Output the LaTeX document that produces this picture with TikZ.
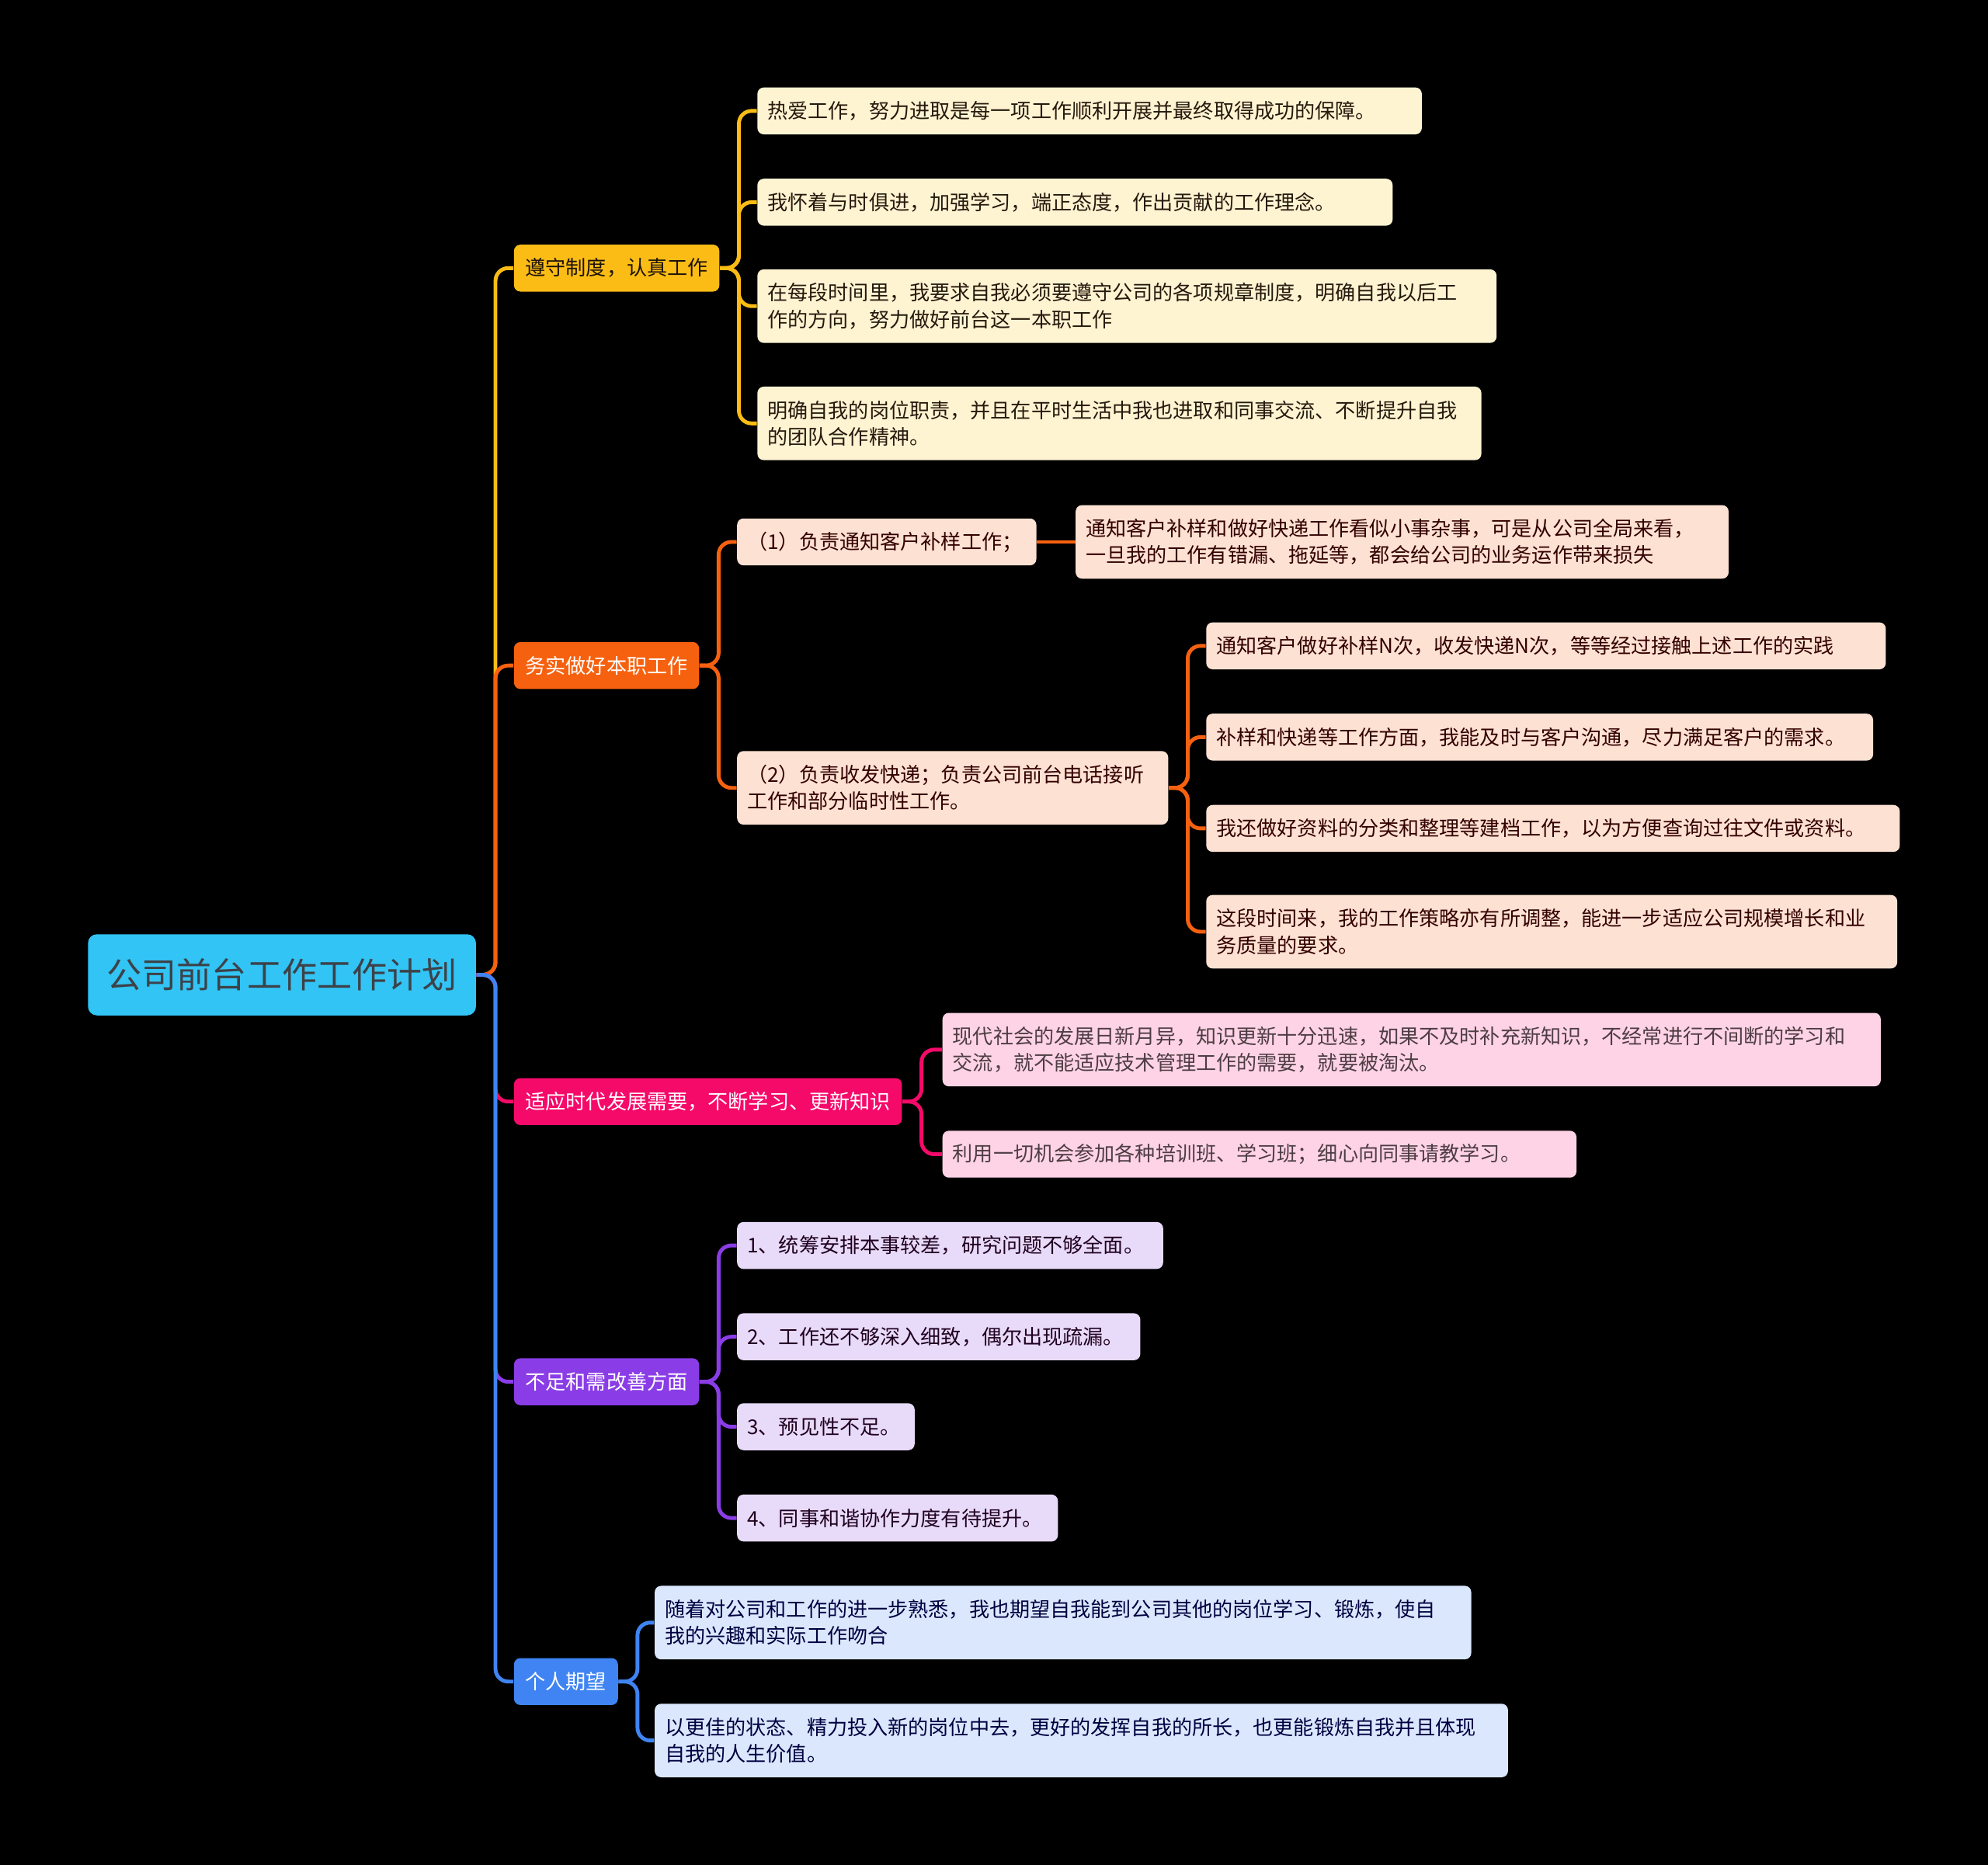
\documentclass[tikz,border=0pt]{standalone}
\usepackage{fontspec}
\setmainfont{Noto Sans CJK SC}
\definecolor{rootc}{HTML}{31C4F5}
\definecolor{ylw}{HTML}{FBBC16}
\definecolor{org}{HTML}{F6610F}
\definecolor{pnk}{HTML}{F50A6A}
\definecolor{prp}{HTML}{8A3DE6}
\definecolor{blu}{HTML}{3F84F2}
\definecolor{ylwleaf}{HTML}{FEF4D2}
\definecolor{orgleaf}{HTML}{FDE1D2}
\definecolor{pnkleaf}{HTML}{FED3E5}
\definecolor{prpleaf}{HTML}{E8DBF9}
\definecolor{bluleaf}{HTML}{DAE7FD}
\begin{document}
\begin{tikzpicture}[x=0.5pt,y=-0.5pt,
  box/.style={rounded corners=2.5pt,inner xsep=4pt,inner ysep=0pt,minimum height=18.5pt,anchor=west,font=\fontsize{8}{10.5}\selectfont},
  branch/.style={box,inner xsep=4.5pt,fill=#1,text=white},
  leaf/.style={box,align=left,text width=#1},
  tall/.style={minimum height=29pt},
  yleaf/.style={fill=ylwleaf,text=black!80!brown},
  oleaf/.style={fill=orgleaf,text=black!80!red},
  pleaf/.style={fill=pnkleaf,text=black!80!magenta},
  vleaf/.style={fill=prpleaf,text=black!75!violet},
  bleaf/.style={fill=bluleaf,text=black!75!blue},
  link/.style={line width=1.5pt,rounded corners=5pt}]
\fill[black] (0,0) rectangle (1568,1471);
\useasboundingbox (0,0) rectangle (1568,1471);

% centre
\node[box,rounded corners=3.5pt,fill=rootc,text=black!70!cyan!60!black,inner xsep=7.5pt,minimum height=32pt,font=\fontsize{13.8}{16}\selectfont] (root) at (69,769) {公司前台工作工作计划};

% branches
\node[branch=ylw,text=black!85!brown] (b1) at (405,211.5) {遵守制度，认真工作};
\node[branch=org] (b2) at (405,525) {务实做好本职工作};
\node[branch=pnk] (b3) at (405,869) {适应时代发展需要，不断学习、更新知识};
\node[branch=prp] (b4) at (405,1090) {不足和需改善方面};
\node[branch=blu] (b5) at (405,1326.5) {个人期望};

% branch 1
\node[leaf=254pt,yleaf] (l1a) at (597,87.5) {热爱工作，努力进取是每一项工作顺利开展并最终取得成功的保障。};
\node[leaf=242.5pt,yleaf] (l1b) at (597,159.5) {我怀着与时俱进，加强学习，端正态度，作出贡献的工作理念。};
\node[leaf=283.5pt,yleaf,tall] (l1c) at (597,241.5) {在每段时间里，我要求自我必须要遵守公司的各项规章制度，明确自我以后工\\作的方向，努力做好前台这一本职工作};
\node[leaf=277.5pt,yleaf,tall] (l1d) at (597,334) {明确自我的岗位职责，并且在平时生活中我也进取和同事交流、不断提升自我\\的团队合作精神。};

% branch 2
\node[leaf=110pt,oleaf] (l2a) at (581,427.5) {（1）负责通知客户补样工作；};
\node[leaf=249.5pt,oleaf,tall] (l2a1) at (848,427.5) {通知客户补样和做好快递工作看似小事杂事，可是从公司全局来看，\\一旦我的工作有错漏、拖延等，都会给公司的业务运作带来损失};
\node[leaf=162pt,oleaf,tall] (l2b) at (581,621.5) {（2）负责收发快递；负责公司前台电话接听\\工作和部分临时性工作。};
\node[leaf=260pt,oleaf] (l2b1) at (951,509.5) {通知客户做好补样N次，收发快递N次，等等经过接触上述工作的实践};
\node[leaf=255pt,oleaf] (l2b2) at (951,581.5) {补样和快递等工作方面，我能及时与客户沟通，尽力满足客户的需求。};
\node[leaf=265.5pt,oleaf] (l2b3) at (951,653.5) {我还做好资料的分类和整理等建档工作，以为方便查询过往文件或资料。};
\node[leaf=264.5pt,oleaf,tall] (l2b4) at (951,735) {这段时间来，我的工作策略亦有所调整，能进一步适应公司规模增长和业\\务质量的要求。};

% branch 3
\node[leaf=362pt,pleaf,tall] (l3a) at (743,828) {现代社会的发展日新月异，知识更新十分迅速，如果不及时补充新知识，不经常进行不间断的学习和\\交流，就不能适应技术管理工作的需要，就要被淘汰。};
\node[leaf=242pt,pleaf] (l3b) at (743,910.5) {利用一切机会参加各种培训班、学习班；细心向同事请教学习。};

% branch 4
\node[leaf=160pt,vleaf] (l4a) at (581,982.5) {1、统筹安排本事较差，研究问题不够全面。};
\node[leaf=151pt,vleaf] (l4b) at (581,1054.5) {2、工作还不够深入细致，偶尔出现疏漏。};
\node[leaf=62pt,vleaf] (l4c) at (581,1125.5) {3、预见性不足。};
\node[leaf=118.5pt,vleaf] (l4d) at (581,1197.5) {4、同事和谐协作力度有待提升。};

% branch 5
\node[leaf=314pt,bleaf,tall] (l5a) at (516,1280) {随着对公司和工作的进一步熟悉，我也期望自我能到公司其他的岗位学习、锻炼，使自\\我的兴趣和实际工作吻合};
\node[leaf=328.5pt,bleaf,tall] (l5b) at (516,1373) {以更佳的状态、精力投入新的岗位中去，更好的发挥自我的所长，也更能锻炼自我并且体现\\自我的人生价值。};

% links
\draw[link,ylw] (root.east) -- ++(15,0) |- (b1.west);
\draw[link,org] (root.east) -- ++(15,0) |- (b2.west);
\draw[link,pnk] (root.east) -- ++(15,0) |- (b3.west);
\draw[link,prp] (root.east) -- ++(15,0) |- (b4.west);
\draw[link,blu] (root.east) -- ++(15,0) |- (b5.west);
\foreach \l in {l1a,l1b,l1c,l1d} \draw[link,ylw] (b1.east) -- ++(15,0) |- (\l.west);
\foreach \l in {l2a,l2b} \draw[link,org] (b2.east) -- ++(15,0) |- (\l.west);
\draw[link,org] (l2a.east) -- (l2a1.west);
\foreach \l in {l2b1,l2b2,l2b3,l2b4} \draw[link,org] (l2b.east) -- ++(15,0) |- (\l.west);
\foreach \l in {l3a,l3b} \draw[link,pnk] (b3.east) -- ++(15,0) |- (\l.west);
\foreach \l in {l4a,l4b,l4c,l4d} \draw[link,prp] (b4.east) -- ++(15,0) |- (\l.west);
\foreach \l in {l5a,l5b} \draw[link,blu] (b5.east) -- ++(15,0) |- (\l.west);
\end{tikzpicture}
\end{document}
